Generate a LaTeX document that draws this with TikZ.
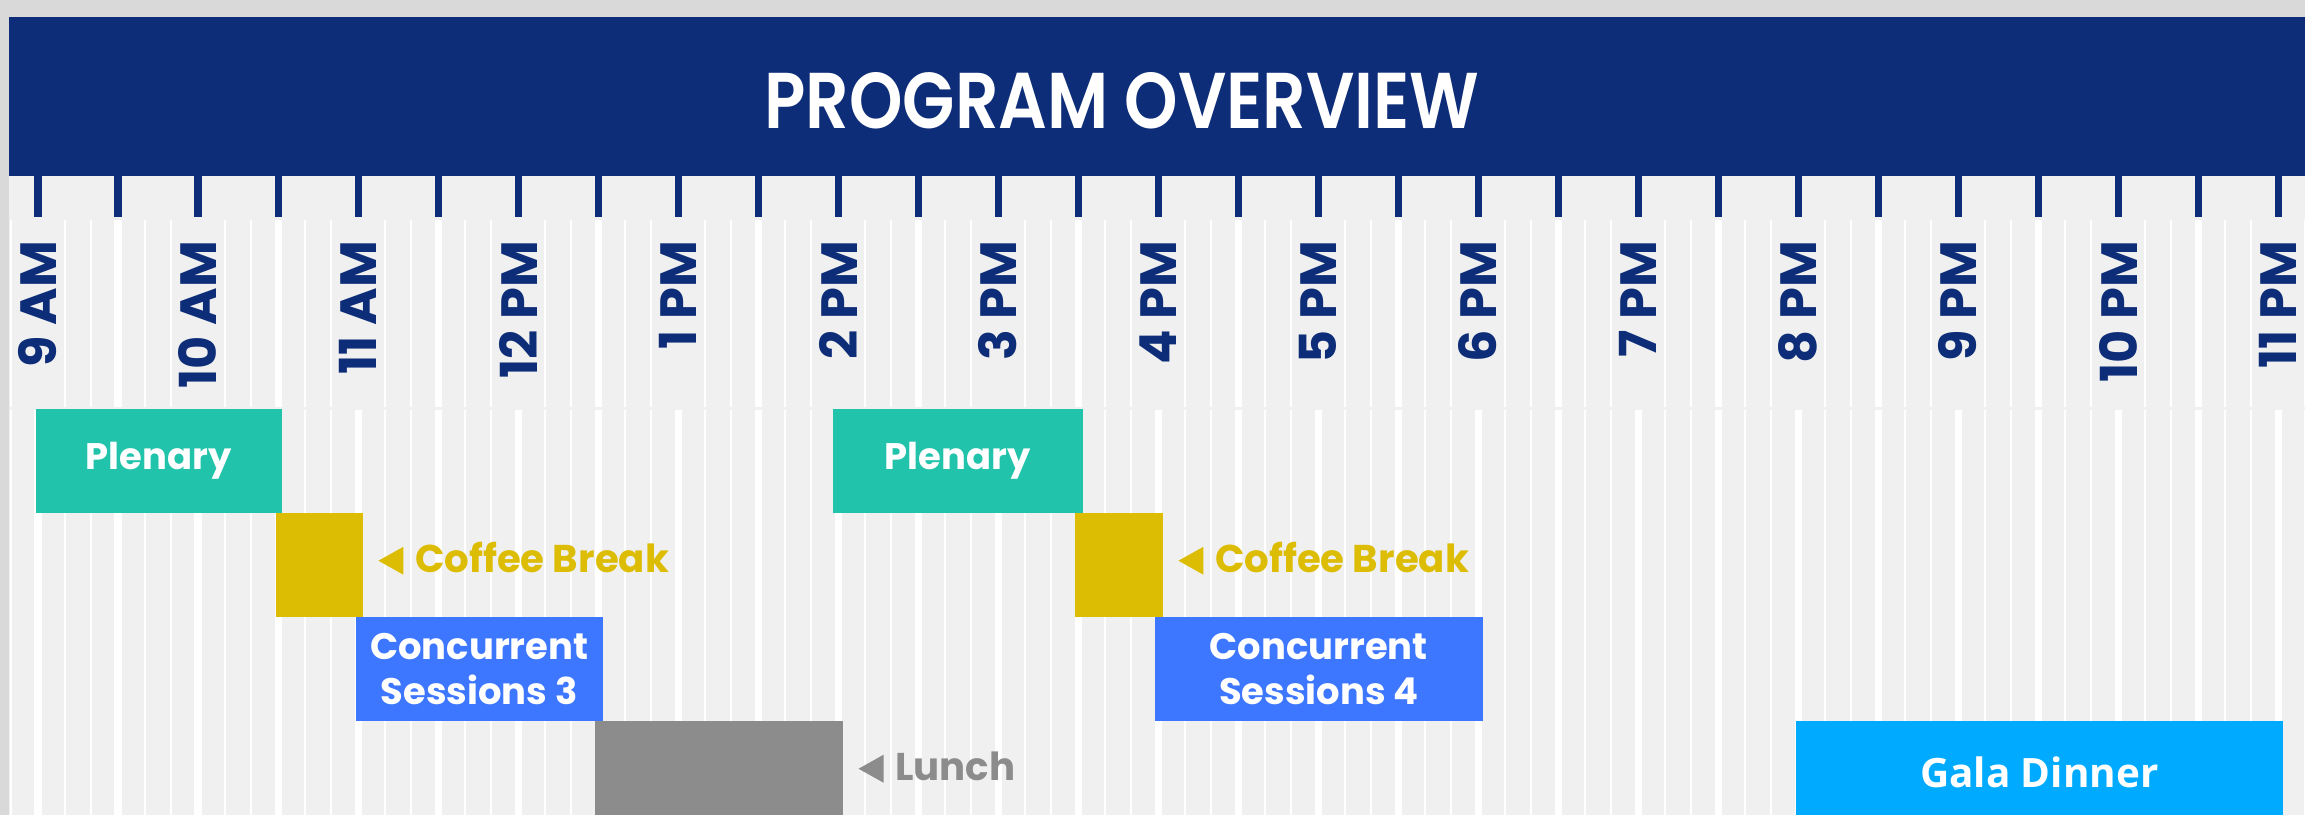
\documentclass[tikz,border=0pt]{standalone}
\usepackage{fontspec}
\usepackage{tikz}
\usetikzlibrary{calc}
\setmainfont{Poppins}
\newfontfamily\titlefont{Poppins SemiBold}
\newfontfamily\galafont{Open Sans}

\definecolor{navy}{HTML}{0E2D78}
\definecolor{panel}{HTML}{F0F0F0}
\definecolor{frame}{HTML}{D9D9D9}
\definecolor{plenarycol}{HTML}{21C3AB}
\definecolor{breakcol}{HTML}{DDBC04}
\definecolor{sessioncol}{HTML}{3D76FF}
\definecolor{lunchcol}{HTML}{8C8C8C}
\definecolor{galacol}{HTML}{00ABFF}

\tikzset{
  slot/.style={rectangle, inner sep=0pt, anchor=north west, minimum height=1.04cm,
    text=white, align=center, font=\bfseries\fontsize{10.5}{12.8}\selectfont},
  hourlbl/.style={rotate=90, anchor=east, inner sep=0pt, text=navy,
    font=\bfseries\fontsize{14.5}{16}\selectfont},
  note/.style={anchor=base west, inner sep=0pt, font=\bfseries\fontsize{11}{13}\selectfont},
  thinline/.style={white, line width=0.02cm},
  thickline/.style={white, line width=0.07cm},
}

\begin{document}
\begin{tikzpicture}[x=0.01cm, y=-0.01cm]

 %%Parameters
%% one unit is one pixel, 9 AM sits at \xnine, one hour is \hr wide
\def\xnine{38}
\def\hr{160}

\useasboundingbox (0,0) rectangle (2305,815);
\fill[frame] (0,0) rectangle (2305,815);
\fill[panel] (9,17) rectangle (2305,815);
\fill[navy] (9,17) rectangle (2305,176);
\node[inner sep=0pt, text=white, xscale=0.86, transform shape,
      font=\titlefont\fontsize{22.5}{26}\selectfont] (title) at (1122,101) {PROGRAM OVERVIEW};

%% Grid : one line every 10 minutes
\foreach \k in {-1,...,85}{
  \pgfmathsetmacro\gx{\xnine+\k*\hr/6}
  \pgfmathtruncatemacro\m{mod(\k+6,6)}
  \ifnum\m=0
    \draw[thickline] (\gx,410) -- (\gx,815);
  \else\ifnum\m=3
    \draw[thickline] (\gx,220) -- (\gx,407);
    \draw[thickline] (\gx,410) -- (\gx,815);
  \else
    \draw[thinline] (\gx,220) -- (\gx,407);
    \draw[thinline] (\gx,410) -- (\gx,815);
  \fi\fi
}

%% Ticks and hours
\foreach \j in {0,...,28}
  \draw[navy, line width=0.07cm] ({\xnine+\j*\hr/2},176) -- ({\xnine+\j*\hr/2},217);

\foreach \lbl [count=\i from 0] in {9 AM,10 AM,11 AM,12 PM,1 PM,2 PM,3 PM,4 PM,5 PM,6 PM,7 PM,8 PM,9 PM,10 PM,11 PM}
  \node[hourlbl] (h\i) at ({\xnine+\i*\hr},240) {\lbl};

%% Sessions
\node[slot, fill=plenarycol, minimum width=2.46cm] (plenary1) at (35,408) {Plenary};
\node[slot, fill=breakcol, minimum width=0.87cm] (coffee1) at (275,512) {};
\node[slot, fill=sessioncol, minimum width=2.47cm] (conc3) at (355,616) {Concurrent\\Sessions 3};
\node[slot, fill=lunchcol, minimum width=2.48cm] (lunch) at (594,720) {};

\node[slot, fill=plenarycol, minimum width=2.50cm] (plenary2) at (832,408) {Plenary};
\node[slot, fill=breakcol, minimum width=0.88cm] (coffee2) at (1074,512) {};
\node[slot, fill=sessioncol, minimum width=3.28cm] (conc4) at (1154,616) {Concurrent\\Sessions 4};

\node[slot, fill=galacol, minimum width=4.87cm, font=\galafont\bfseries\fontsize{11.5}{13}\selectfont] (gala) at (1795,720) {Gala Dinner};

%% Notes beside the breaks
\coordinate (cb1tip) at ($(coffee1.east)+(15,-4)$);
\fill[breakcol] (cb1tip) -- ++(25,-14) -- ++(0,28) -- cycle;
\node[note, text=breakcol] (cb1) at ($(cb1tip)+(36,12)$) {Coffee Break};

\coordinate (cb2tip) at ($(coffee2.east)+(15,-4)$);
\fill[breakcol] (cb2tip) -- ++(25,-14) -- ++(0,28) -- cycle;
\node[note, text=breakcol] (cb2) at ($(cb2tip)+(36,12)$) {Coffee Break};

\coordinate (lunchtip) at ($(lunch.east)+(15,-4)$);
\fill[lunchcol] (lunchtip) -- ++(25,-14) -- ++(0,28) -- cycle;
\node[note, text=lunchcol] (lunchlbl) at ($(lunchtip)+(36,12)$) {Lunch};

\end{tikzpicture}
\end{document}
